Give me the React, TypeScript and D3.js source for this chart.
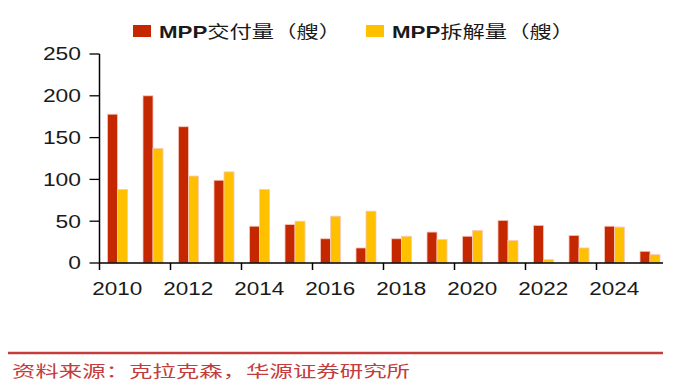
import * as d3 from "d3";

const WIDTH = 681;
const HEIGHT = 387;

// chart values
const years = ["2010", "2011", "2012", "2013", "2014", "2015", "2016", "2017", "2018", "2019", "2020", "2021", "2022", "2023", "2024", "2025"];
const delivered = [178, 200, 163, 99, 44, 46, 29, 18, 29, 37, 32, 51, 45, 33, 44, 14];
const scrapped = [88, 137, 104, 109, 88, 50, 56, 62, 32, 28, 39, 27, 4, 18, 43, 10];
const seriesNames = ["MPP交付量（艘）", "MPP拆解量（艘）"];
const yTicks = [0, 50, 100, 150, 200, 250];
const xTickLabels = ["2010", "2012", "2014", "2016", "2018", "2020", "2022", "2024"];
const source = "资料来源：克拉克森，华源证券研究所";

const COLORS = ["#c52800", "#ffc000"];
const LATIN = "'Liberation Sans', Arial, sans-serif";
const CJK = "'Noto Sans CJK SC', sans-serif";

export default function App() {
  const x = d3.scaleBand<string>().domain(years).range([99.5, 667.5]).padding(0);
  const inner = d3.scaleBand<number>().domain([0, 1]).range([8, 28]).padding(0);
  const y = d3.scaleLinear().domain([0, 250]).range([263, 54]);

  const seriesValues = [delivered, scrapped];
  const x0 = x.range()[0];
  const y0 = y(0);

  return (
    <svg width={WIDTH} height={HEIGHT} style={{ position: "absolute", left: 0, top: 0 }}>
      <rect width={WIDTH} height={HEIGHT} fill="#fff" />

      {/* legend */}
      {seriesNames.map((name, i) => {
        const lx = i === 0 ? 133 : 366;
        return (
          <g key={name}>
            <rect x={lx} y={25} width={18} height={12} fill={COLORS[i]} />
            <text x={lx + 26} y={37.5} fontSize={17} fill="#1a1a1a" textLength={182} lengthAdjust="spacingAndGlyphs">
              <tspan fontFamily={LATIN} fontWeight="bold">{name.slice(0, 3)}</tspan>
              <tspan fontFamily={CJK}>{name.slice(3)}</tspan>
            </text>
          </g>
        );
      })}

      {/* bars */}
      {years.map((yr, i) => (
        <g key={yr} transform={`translate(${x(yr)},0)`}>
          {seriesValues.map((vals, s) => (
            <rect
              key={s}
              x={inner(s)}
              width={inner.bandwidth()}
              y={y(vals[i])}
              height={y0 - y(vals[i])}
              fill={COLORS[s]}
              stroke="#f7c9bd"
              strokeWidth={0.8}
            />
          ))}
        </g>
      ))}

      {/* y axis */}
      <line x1={x0} x2={x0} y1={y(250)} y2={y0} stroke="#000" strokeWidth={1.5} />
      {yTicks.map((t) => (
        <g key={t}>
          <line x1={x0 - 10} x2={x0} y1={y(t)} y2={y(t)} stroke="#000" strokeWidth={1.3} />
          <text
            x={81}
            y={y(t)}
            dy="0.36em"
            textAnchor="end"
            fontFamily={LATIN}
            fontSize={18}
            fill="#1a1a1a"
            textLength={12.7 * String(t).length}
            lengthAdjust="spacingAndGlyphs"
          >
            {t}
          </text>
        </g>
      ))}

      {/* x axis */}
      <line x1={x0} x2={663} y1={y0} y2={y0} stroke="#000" strokeWidth={1.5} />
      {xTickLabels.map((lab) => (
        <g key={lab}>
          <line x1={x(lab)!} x2={x(lab)!} y1={y0} y2={y0 + 7} stroke="#000" strokeWidth={1.5} />
          <text
            x={x(lab)! + x.bandwidth() / 2}
            y={295}
            textAnchor="middle"
            fontFamily={LATIN}
            fontSize={18}
            fill="#1a1a1a"
            textLength={50}
            lengthAdjust="spacingAndGlyphs"
          >
            {lab}
          </text>
        </g>
      ))}

      {/* source footer */}
      <line x1={8} x2={663} y1={353} y2={353} stroke="#c43c3c" strokeWidth={2.5} />
      <text x={12} y={377} fontFamily={CJK} fontSize={16} fill="#c43c3c" textLength={398} lengthAdjust="spacingAndGlyphs">
        {source}
      </text>
    </svg>
  );
}
